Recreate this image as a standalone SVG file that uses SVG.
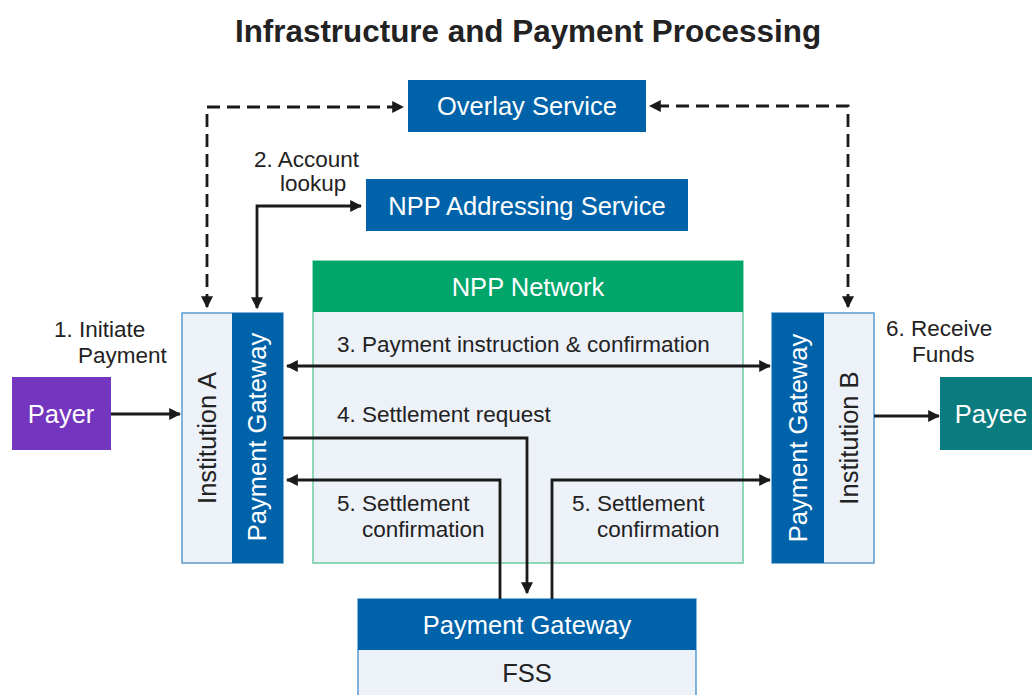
<svg xmlns="http://www.w3.org/2000/svg" width="1032" height="695" viewBox="0 0 1032 695">
<style>
  text { font-family: "Liberation Sans", Arial, sans-serif; }
  .title { font-size: 31.4px; font-weight: bold; fill: #222; }
  .box { font-size: 25.5px; fill: #fff; }
  .dark { font-size: 25.5px; fill: #222; }
  .lbl { font-size: 22.5px; fill: #222; }
  .blue { fill: #0063AA; }
  .light { fill: #EDF1F8; }
  .edge { fill: none; stroke: #1a1a1a; stroke-width: 2.8; }
  .dash { stroke-dasharray: 13 7; }
</style>
<defs>
  <marker id="ah" viewBox="0 0 10 10" refX="9" refY="5" markerWidth="12" markerHeight="12" markerUnits="userSpaceOnUse" orient="auto-start-reverse">
    <path d="M0,0 L10,5 L0,10 z" fill="#1a1a1a"/>
  </marker>
</defs>
<rect width="1032" height="695" fill="#fff"/>
<text class="title" x="528" y="42" text-anchor="middle">Infrastructure and Payment Processing</text>

<g id="overlay">
  <rect class="blue" x="408" y="80" width="238" height="52"/>
  <text class="box" x="527" y="115" text-anchor="middle">Overlay Service</text>
</g>
<g id="addressing">
  <rect class="blue" x="366" y="179" width="322" height="52"/>
  <text class="box" x="527" y="215" text-anchor="middle">NPP Addressing Service</text>
</g>
<g id="npp-network">
  <rect class="light" x="313" y="261" width="430" height="302" stroke="#6CCB9F" stroke-width="1.5"/>
  <rect x="313" y="261" width="430" height="51" fill="#00A56C"/>
  <text class="box" x="528" y="296" text-anchor="middle">NPP Network</text>
</g>
<g id="payer">
  <rect x="12" y="377" width="99" height="73" fill="#7435BF"/>
  <text class="box" x="61" y="423" text-anchor="middle">Payer</text>
</g>
<g id="institution-a">
  <rect class="light" x="182" y="313" width="101" height="250" stroke="#5A9AD0" stroke-width="1.5"/>
  <rect class="blue" x="232" y="313" width="51" height="250"/>
  <text class="dark" transform="translate(216,438) rotate(-90)" text-anchor="middle">Institution A</text>
  <text class="box" transform="translate(266,437) rotate(-90)" text-anchor="middle">Payment Gateway</text>
</g>
<g id="institution-b">
  <rect class="light" x="772" y="313" width="102" height="250" stroke="#5A9AD0" stroke-width="1.5"/>
  <rect class="blue" x="772" y="313" width="52" height="250"/>
  <text class="box" transform="translate(807,438) rotate(-90)" text-anchor="middle">Payment Gateway</text>
  <text class="dark" transform="translate(858,438) rotate(-90)" text-anchor="middle">Institution B</text>
</g>
<g id="payee">
  <rect x="940" y="377" width="100" height="73" fill="#0A7B7E"/>
  <text class="box" x="991" y="423" text-anchor="middle">Payee</text>
</g>
<g id="fss">
  <rect class="light" x="358" y="599" width="338" height="100" stroke="#5A9AD0" stroke-width="1.5"/>
  <rect class="blue" x="358" y="599" width="338" height="51"/>
  <text class="box" x="527" y="634" text-anchor="middle">Payment Gateway</text>
  <text class="dark" x="527" y="682" text-anchor="middle">FSS</text>
</g>

<g id="connectors">
  <path class="edge dash" d="M207,307 V107 H403" marker-start="url(#ah)" marker-end="url(#ah)"/>
  <path class="edge dash" d="M848,307 V106 H650" marker-start="url(#ah)" marker-end="url(#ah)"/>
  <path class="edge" d="M257,308 V206 H361" marker-start="url(#ah)" marker-end="url(#ah)"/>
  <path class="edge" d="M111,414 H180" marker-end="url(#ah)"/>
  <path class="edge" d="M287,366 H770" marker-start="url(#ah)" marker-end="url(#ah)"/>
  <path class="edge" d="M283,438 H527 V593" marker-end="url(#ah)"/>
  <path class="edge" d="M500,599 V480 H287" marker-end="url(#ah)"/>
  <path class="edge" d="M552,599 V480 H770" marker-end="url(#ah)"/>
  <path class="edge" d="M874,416 H939" marker-end="url(#ah)"/>
</g>

<g id="labels">
  <text class="lbl" x="254" y="167">2. Account</text>
  <text class="lbl" x="280" y="191">lookup</text>
  <text class="lbl" x="54" y="337">1. Initiate</text>
  <text class="lbl" x="78" y="363">Payment</text>
  <text class="lbl" x="886" y="336">6. Receive</text>
  <text class="lbl" x="912" y="362">Funds</text>
  <text class="lbl" x="337" y="352">3. Payment instruction &amp; confirmation</text>
  <text class="lbl" x="337" y="422">4. Settlement request</text>
  <text class="lbl" x="337" y="511">5. Settlement</text>
  <text class="lbl" x="362" y="537">confirmation</text>
  <text class="lbl" x="572" y="511">5. Settlement</text>
  <text class="lbl" x="597" y="537">confirmation</text>
</g>
</svg>
